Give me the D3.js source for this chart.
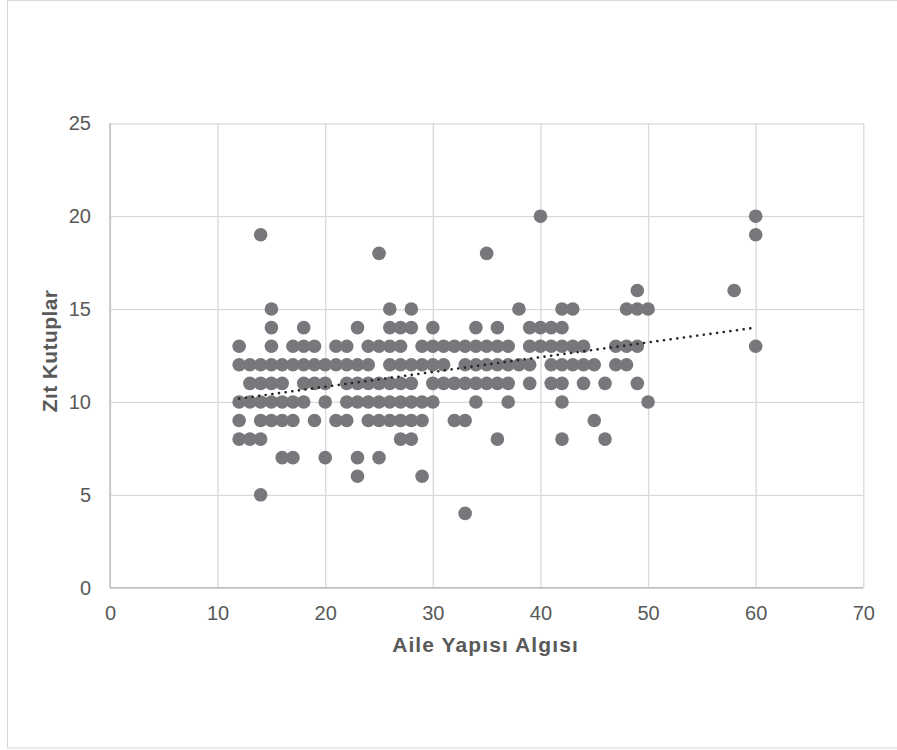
<!DOCTYPE html>
<html>
<head>
<meta charset="utf-8">
<script src="https://cdn.jsdelivr.net/npm/d3@7"></script>
<style>
  html, body { margin: 0; padding: 0; background: #fff; }
  svg { display: block; font-family: "Liberation Sans", Arial, sans-serif; }
</style>
</head>
<body>
<svg id="chart" width="897" height="750"></svg>
<script>
// ---- Data ----
const xTickLabels = [0, 10, 20, 30, 40, 50, 60, 70];
const yTickLabels = [0, 5, 10, 15, 20, 25];
const xTitle = "Aile Yapısı Algısı";
const yTitle = "Zıt Kutuplar";

// x values (Aile Yapısı Algısı) observed at each y level (Zıt Kutuplar)
const xAtY20 = [40, 60];
const xAtY19 = [14, 60];
const xAtY18 = [25, 35];
const xAtY16 = [49, 58];
const xAtY15 = [15, 26, 28, 38, 42, 43, 48, 49, 50];
const xAtY14 = [15, 18, 23, 26, 27, 28, 30, 34, 36, 39, 40, 41, 42];
const xAtY13 = [12, 15, 17, 18, 19, 21, 22, 24, 25, 26, 27, 29, 30, 31, 32, 33, 34, 35, 36, 37, 39, 40, 41, 42, 43, 44, 47, 48, 49, 60];
const xAtY12 = [12, 13, 14, 15, 16, 17, 18, 19, 20, 21, 22, 23, 24, 26, 27, 28, 29, 30, 31, 33, 34, 35, 36, 37, 38, 39, 41, 42, 43, 44, 45, 47, 48];
const xAtY11 = [13, 14, 15, 16, 18, 19, 20, 22, 23, 24, 25, 26, 27, 28, 30, 31, 32, 33, 34, 35, 36, 37, 39, 41, 42, 44, 46, 49];
const xAtY10 = [12, 13, 14, 15, 16, 17, 18, 20, 22, 23, 24, 25, 26, 27, 28, 29, 30, 34, 37, 42, 50];
const xAtY9  = [12, 14, 15, 16, 17, 19, 21, 22, 24, 25, 26, 27, 28, 29, 32, 33, 45];
const xAtY8  = [12, 13, 14, 27, 28, 36, 42, 46];
const xAtY7  = [16, 17, 20, 23, 25];
const xAtY6  = [23, 29];
const xAtY5  = [14];
const xAtY4  = [33];

// linear trend line end points
const trendX = [12, 60];
const trendY = [10.18, 14.0];

const levels = [
  [20, xAtY20], [19, xAtY19], [18, xAtY18], [16, xAtY16], [15, xAtY15],
  [14, xAtY14], [13, xAtY13], [12, xAtY12], [11, xAtY11], [10, xAtY10],
  [9, xAtY9], [8, xAtY8], [7, xAtY7], [6, xAtY6], [5, xAtY5], [4, xAtY4]
];
const points = [];
levels.forEach(([yv, xs]) => xs.forEach(xv => points.push({x: xv, y: yv})));

// ---- Drawing ----
(function () {
const svg = d3.select("#chart");
const pLeft = 110, pRight = 863.3, pTop = 123.3, pBottom = 587.7;

// outer chart border
svg.append("rect")
  .attr("x", 7.5).attr("y", 0.5)
  .attr("width", 900).attr("height", 747.5)
  .attr("fill", "#fff").attr("stroke", "#d9d9d9").attr("stroke-width", 1);

const x = d3.scaleLinear().domain([0, 70]).range([pLeft, pRight]);
const y = d3.scaleLinear().domain([0, 25]).range([pBottom, pTop]);

// vertical gridlines via bottom axis
const gx = svg.append("g")
  .attr("transform", `translate(0,${pBottom})`)
  .call(d3.axisBottom(x).tickValues(xTickLabels).tickSize(-(pBottom - pTop)).tickPadding(18.5).tickFormat(d3.format("d")));
gx.select(".domain").remove();
gx.selectAll(".tick line").attr("stroke", "#d9d9d9").attr("stroke-width", 1.3);
gx.selectAll(".tick text").attr("fill", "#595959").style("font-size", "20px");

// horizontal gridlines via left axis
const gy = svg.append("g")
  .attr("transform", `translate(${pLeft},0)`)
  .call(d3.axisLeft(y).tickValues(yTickLabels).tickSize(-(pRight - pLeft)).tickPadding(19).tickFormat(d3.format("d")));
gy.select(".domain").remove();
gy.selectAll(".tick line").attr("stroke", "#d9d9d9").attr("stroke-width", 1.3);
gy.selectAll(".tick text").attr("fill", "#595959").style("font-size", "20px");

// axis lines
svg.append("line").attr("x1", pLeft).attr("x2", pRight).attr("y1", y(0)).attr("y2", y(0))
  .attr("stroke", "#bfbfbf").attr("stroke-width", 1.5);
svg.append("line").attr("x1", x(0)).attr("x2", x(0)).attr("y1", pTop).attr("y2", pBottom)
  .attr("stroke", "#bfbfbf").attr("stroke-width", 1.5);

// points
svg.append("g").selectAll("circle").data(points).join("circle")
  .attr("cx", d => x(d.x)).attr("cy", d => y(d.y)).attr("r", 6.8)
  .attr("fill", "#77787b");

// trend line
const trend = trendX.map((v, i) => [v, trendY[i]]);
svg.append("path")
  .attr("d", d3.line().x(d => x(d[0])).y(d => y(d[1]))(trend))
  .attr("fill", "none").attr("stroke", "#262626").attr("stroke-width", 2.6)
  .attr("stroke-linecap", "round").attr("stroke-dasharray", "0.1 6.6");

// axis titles
svg.append("text")
  .attr("x", 485.5).attr("y", 652)
  .attr("text-anchor", "middle").attr("fill", "#595959")
  .style("font-size", "21px").style("font-weight", "bold")
  .style("letter-spacing", "1.1px")
  .text(xTitle);
svg.append("text")
  .attr("transform", `translate(56.5,351) rotate(-90)`)
  .attr("text-anchor", "middle").attr("fill", "#595959")
  .style("font-size", "21px").style("font-weight", "bold")
  .style("letter-spacing", "0.4px")
  .text(yTitle);
})();
</script>
</body>
</html>
